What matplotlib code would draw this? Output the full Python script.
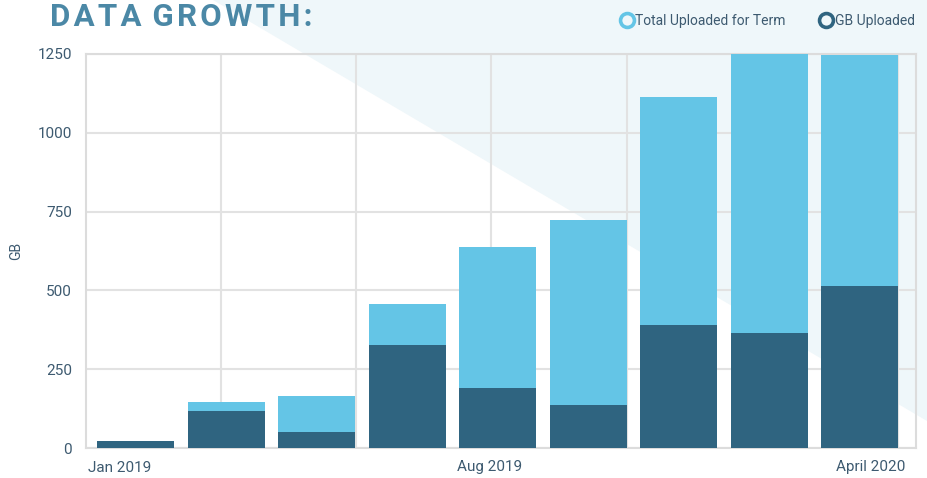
import matplotlib.pyplot as plt
import numpy as np
from matplotlib.patches import Polygon
from matplotlib.lines import Line2D

# data (GB)
terms = np.arange(9)
gb_uploaded = [22, 117, 51, 327, 190, 136, 390, 365, 514]
total_for_term = [22, 146, 165, 457, 638, 723, 1114, 1260, 1247]
tick_pos = [-0.53, 3.91, 8.5]
tick_labels = ["Jan 2019", "Aug 2019", "April 2020"]
vgrid = [0.945, 2.436, 3.93, 5.43, 6.92, 8.42]

light = "#64c5e6"
dark = "#2f6480"
text_col = "#3d5a70"
grid_col = "#e2e2e2"

plt.rcParams["font.family"] = ["Roboto", "DejaVu Sans"]

fig = plt.figure(figsize=(9.27, 4.78), dpi=100)

# pale diagonal band behind everything
bg = Polygon([(213 / 927, 1), (1, 1), (1, 1 - 421 / 478)], closed=True,
             transform=fig.transFigure, facecolor="#eff7fa", edgecolor="none", zorder=-5)
fig.patches.append(bg)

ax = fig.add_axes([86 / 927, 1 - 448 / 478, (916 - 86) / 927, (448 - 54) / 478])
ax.set_facecolor("none")
ax.set_zorder(1)

ax.bar(terms, total_for_term, width=0.85, color=light, zorder=3)
ax.bar(terms, gb_uploaded, width=0.85, color=dark, zorder=4)

ax.set_xlim(-0.55, 8.62)
ax.set_ylim(0, 1250)
ax.set_yticks([0, 250, 500, 750, 1000, 1250])
ax.yaxis.grid(True, color=grid_col, linewidth=1.5, zorder=1)
for v in vgrid:
    ax.axvline(v, color=grid_col, linewidth=1.5, zorder=1)
for s in ax.spines.values():
    s.set_color("#dcdcdc")
    s.set_linewidth(1.5)

ax.set_xticks(tick_pos)
ax.set_xticklabels(tick_labels)
for lab, ha in zip(ax.get_xticklabels(), ["left", "center", "right"]):
    lab.set_ha(ha)
ax.tick_params(axis="both", length=0, labelsize=11, colors=text_col)
ax.tick_params(axis="x", pad=9)
ax.tick_params(axis="y", pad=10)
ax.set_ylabel("GB", color=text_col, fontsize=10)
ax.yaxis.set_label_coords(-0.076, 0.5)

hs = "\u200a"
title = hs.join("DATA") + " " + hs + hs.join("GROWTH:")
fig.text(50 / 927, 1 - 17 / 478, title, fontsize=22.5, fontweight="bold",
         color="#4b88a6", va="center", ha="left")

handles = [Line2D([], [], linestyle="none", marker="o", markersize=10, markerfacecolor="none",
                  markeredgecolor=light, markeredgewidth=2.6),
           Line2D([], [], linestyle="none", marker="o", markersize=10, markerfacecolor="none",
                  markeredgecolor=dark, markeredgewidth=2.6)]
fig.legend(handles, ["Total Uploaded for Term", "GB Uploaded"], loc="center right",
           bbox_to_anchor=(1.0, 1 - 21 / 478), ncol=2, frameon=False, fontsize=10,
           labelcolor=text_col, handletextpad=0.1, columnspacing=2.4, handlelength=1.0)

fig.savefig("out.png", dpi=100)
